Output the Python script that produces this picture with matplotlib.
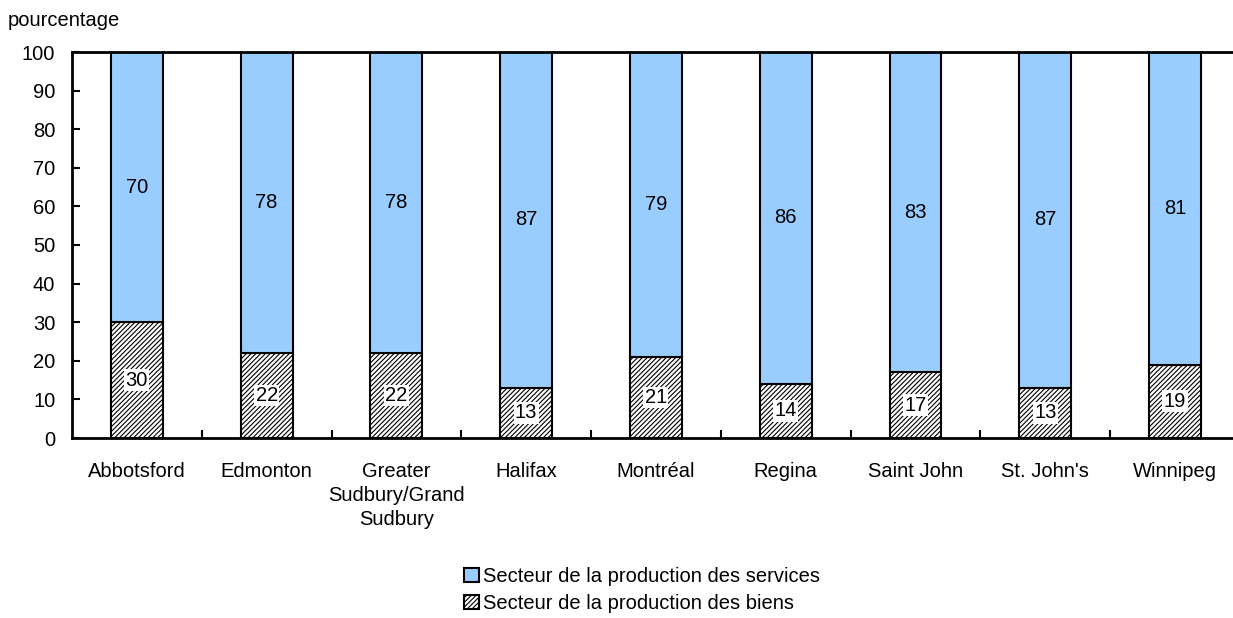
import matplotlib.pyplot as plt
import matplotlib as mpl
import numpy as np

cities = ['Abbotsford', 'Edmonton', 'Greater\nSudbury/Grand\nSudbury', 'Halifax',
          'Montréal', 'Regina', 'Saint John', "St. John's", 'Winnipeg']
biens = [30, 22, 22, 13, 21, 14, 17, 13, 19]
services = [70, 78, 78, 87, 79, 86, 83, 87, 81]

plt.rcParams['font.family'] = ['Liberation Sans', 'DejaVu Sans']
plt.rcParams['font.size'] = 14.5
plt.rcParams['hatch.color'] = '#606060'
plt.rcParams['hatch.linewidth'] = 0.8

fig = plt.figure(figsize=(12.33, 6.18), dpi=100)
ax = fig.add_axes([72 / 1233, 180 / 618, (1233 - 72) / 1233, 386 / 618])

x = np.arange(len(cities))
b1 = ax.bar(x, biens, width=0.4, color='white', edgecolor='black', linewidth=1.5,
            hatch='///////', label='Secteur de la production des biens')
b2 = ax.bar(x, services, width=0.4, bottom=biens, color='#99CCFF', edgecolor='black',
            linewidth=1.5, label='Secteur de la production des services')

for i in range(len(cities)):
    ax.text(x[i], biens[i] / 2, str(biens[i]), ha='center', va='center',
            bbox=dict(facecolor='white', edgecolor='none', pad=1))
    ax.text(x[i], biens[i] + services[i] / 2, str(services[i]), ha='center', va='center')

ax.set_ylim(0, 100)
ax.set_xlim(-0.5, 8.447)
ax.set_yticks(range(0, 101, 10))
ax.set_xticks(x)
ax.set_xticklabels(cities, linespacing=1.35)
ax.set_xticks(np.arange(0.5, 8.5, 1), minor=True)
ax.tick_params(axis='x', which='major', length=0, pad=17)
ax.tick_params(axis='x', which='minor', direction='in', length=6, width=1.5)
ax.tick_params(axis='y', direction='in', length=6, width=1.5, pad=12)
for s in ['left', 'bottom', 'top']:
    ax.spines[s].set_linewidth(2)
ax.spines['right'].set_visible(False)

fig.text(8 / 1233, 1 - 20 / 618, 'pourcentage', ha='left', va='center')

fig.legend([b2, b1], [b2.get_label(), b1.get_label()], loc='center',
           bbox_to_anchor=(642 / 1233, 1 - 590 / 618), frameon=False,
           handlelength=0.75, handleheight=0.75, handletextpad=0.2, labelspacing=0.4,
           borderpad=0)

plt.savefig('out.png')
plt.close()
